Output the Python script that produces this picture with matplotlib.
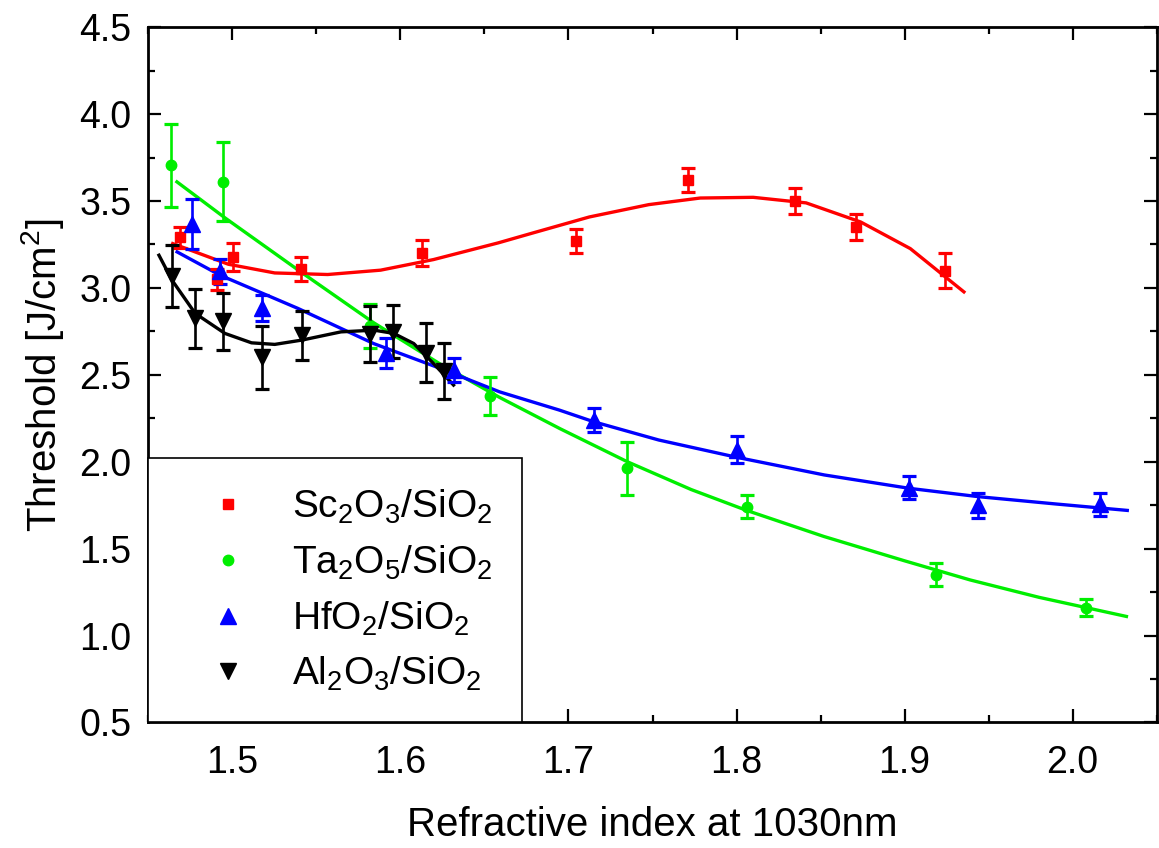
import matplotlib
matplotlib.use('Agg')
import matplotlib.pyplot as plt
from matplotlib.lines import Line2D
import numpy as np

plt.rcParams['font.family'] = ['Liberation Sans', 'DejaVu Sans']
plt.rcParams['mathtext.fontset'] = 'custom'
plt.rcParams['mathtext.rm'] = 'Liberation Sans'
plt.rcParams['mathtext.it'] = 'Liberation Sans:italic'
plt.rcParams['mathtext.default'] = 'regular'

# measured points: refractive index, threshold, error
sc_n = [1.4687, 1.4907, 1.5006, 1.541, 1.6129, 1.7045, 1.771, 1.8349, 1.8709, 1.9238]
sc_t = [3.29, 3.05, 3.18, 3.11, 3.20, 3.27, 3.62, 3.50, 3.35, 3.10]
sc_e = [0.06, 0.06, 0.08, 0.07, 0.075, 0.07, 0.07, 0.075, 0.075, 0.10]

ta_n = [1.4637, 1.4945, 1.5819, 1.6532, 1.7346, 1.8063, 1.9186, 2.0079]
ta_t = [3.705, 3.612, 2.782, 2.378, 1.962, 1.741, 1.35, 1.16]
ta_e = [0.24, 0.227, 0.128, 0.11, 0.153, 0.067, 0.065, 0.05]

hf_n = [1.4759, 1.4925, 1.5177, 1.5914, 1.632, 1.7149, 1.8004, 1.9028, 1.9438, 2.0163]
hf_t = [3.37, 3.095, 2.884, 2.623, 2.527, 2.24, 2.07, 1.85, 1.75, 1.755]
hf_e = [0.144, 0.074, 0.074, 0.086, 0.067, 0.067, 0.078, 0.067, 0.073, 0.068]

al_n = [1.4641, 1.4779, 1.4947, 1.5177, 1.5415, 1.5819, 1.5957, 1.6154, 1.626]
al_t = [3.068, 2.824, 2.807, 2.60, 2.728, 2.733, 2.747, 2.628, 2.52]
al_e = [0.177, 0.172, 0.165, 0.179, 0.14, 0.162, 0.153, 0.168, 0.161]

# fitted curves
sc_fit_n = [1.4645, 1.4976, 1.5252, 1.5567, 1.5882, 1.6197, 1.6582, 1.6788, 1.7124,
            1.7478, 1.7784, 1.8099, 1.8414, 1.8739, 1.9034, 1.9353]
sc_fit_t = [3.255, 3.136, 3.086, 3.077, 3.102, 3.163, 3.259, 3.316, 3.408,
            3.479, 3.517, 3.521, 3.489, 3.379, 3.226, 2.977]

ta_fit_n = [1.467, 1.496, 1.541, 1.584, 1.624, 1.659, 1.695, 1.735, 1.773, 1.806,
            1.852, 1.90, 1.939, 1.98, 2.032]
ta_fit_t = [3.61, 3.40, 3.09, 2.80, 2.56, 2.37, 2.19, 2.00, 1.84, 1.72,
            1.57, 1.43, 1.32, 1.22, 1.11]

hf_fit_n = [1.4671, 1.4927, 1.539, 1.584, 1.6237, 1.659, 1.6946, 1.715, 1.7537,
            1.8004, 1.8522, 1.9028, 1.944, 1.99, 2.0325]
hf_fit_t = [3.207, 3.073, 2.882, 2.680, 2.537, 2.402, 2.297, 2.23, 2.125,
            2.025, 1.924, 1.847, 1.799, 1.757, 1.72]

al_fit_n = [1.4563, 1.4641, 1.4779, 1.4956, 1.5114, 1.5252, 1.5415, 1.5646, 1.5843,
            1.5961, 1.6079, 1.6197, 1.6316]
al_fit_t = [3.188, 3.044, 2.853, 2.738, 2.684, 2.675, 2.70, 2.747, 2.757,
            2.738, 2.68, 2.565, 2.441]

labels = [r'Sc$_2$O$_3$/SiO$_2$', r'Ta$_2$O$_5$/SiO$_2$',
          r'HfO$_2$/SiO$_2$', r'Al$_2$O$_3$/SiO$_2$']
colors = ['#ff0000', '#00ee00', '#0000ff', '#000000']
markers = ['s', 'o', '^', 'v']
msizes = [6.5, 7.5, 11, 11.5]

fig = plt.figure(figsize=(11.59, 8.48), dpi=100)
ax = fig.add_axes([0.128, 0.148, 0.870, 0.820])

series = [(sc_n, sc_t, sc_e, sc_fit_n, sc_fit_t),
          (ta_n, ta_t, ta_e, ta_fit_n, ta_fit_t),
          (hf_n, hf_t, hf_e, hf_fit_n, hf_fit_t),
          (al_n, al_t, al_e, al_fit_n, al_fit_t)]

for (n, t, e, fn, ft), c, m, ms in zip(series, colors, markers, msizes):
    ax.errorbar(n, t, yerr=e, fmt=m, color=c, ms=ms, elinewidth=1.9,
                capsize=5, capthick=2.3, zorder=3)
    ax.plot(fn, ft, color=c, lw=2.4, zorder=2)

ax.set_xlim(1.45, 2.05)
ax.set_ylim(0.5, 4.5)
ax.set_xticks([1.5, 1.6, 1.7, 1.8, 1.9, 2.0])
ax.set_xticks(np.arange(1.45, 2.051, 0.05), minor=True)
ax.set_yticks(np.arange(0.5, 4.51, 0.5))
ax.set_yticks(np.arange(0.5, 4.51, 0.25), minor=True)
ax.xaxis.set_major_formatter(plt.FormatStrFormatter('%.1f'))
ax.yaxis.set_major_formatter(plt.FormatStrFormatter('%.1f'))
ax.tick_params(which='both', direction='in', top=True, right=True, labelsize=27)
ax.tick_params(axis='x', which='major', pad=16)
ax.tick_params(axis='y', which='major', pad=12)
ax.tick_params(which='major', length=9.5, width=1.6)
ax.tick_params(which='minor', length=5, width=1.6)
for s in ax.spines.values():
    s.set_linewidth(2.0)

ax.set_xlabel('Refractive index at 1030nm', fontsize=29, labelpad=18)
ax.set_ylabel('Threshold [J/cm$^2$]', fontsize=29, labelpad=10)

handles = [Line2D([], [], ls='none', marker=m, color=c, ms=ms)
           for c, m, ms in zip(colors, markers, msizes)]
leg = ax.legend(handles, labels, loc='lower left', bbox_to_anchor=(0, 0),
                borderaxespad=0, fontsize=28, frameon=True, fancybox=False,
                framealpha=1, edgecolor='black', handlelength=2.6,
                handletextpad=0.35, borderpad=0.75, labelspacing=0.45)
leg.get_frame().set_linewidth(1.2)

fig.savefig('out.png', dpi=100)
